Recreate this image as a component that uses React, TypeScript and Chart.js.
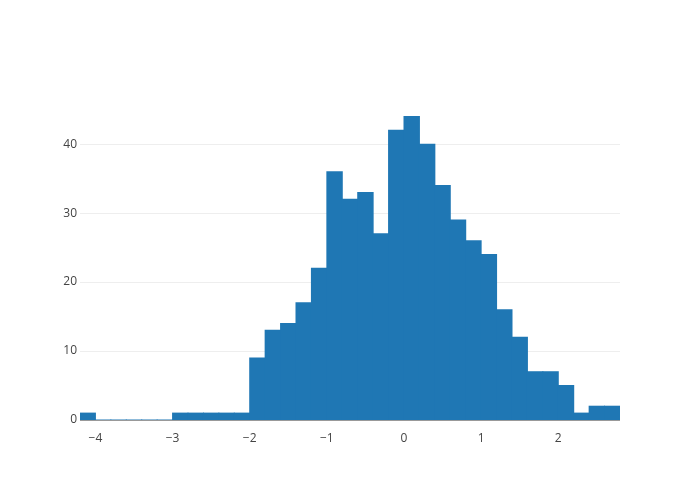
import React, { useEffect, useRef } from "react";
import { Chart, registerables } from "chart.js";

Chart.register(...registerables);

const binCenters = [
  -4.1, -3.9, -3.7, -3.5, -3.3, -3.1, -2.9, -2.7, -2.5, -2.3, -2.1,
  -1.9, -1.7, -1.5, -1.3, -1.1, -0.9, -0.7, -0.5, -0.3, -0.1,
  0.1, 0.3, 0.5, 0.7, 0.9, 1.1, 1.3, 1.5, 1.7, 1.9, 2.1, 2.3, 2.5, 2.7,
];
const counts = [
  1, 0, 0, 0, 0, 0, 1, 1, 1, 1, 1,
  9, 13, 14, 17, 22, 36, 32, 33, 27, 42,
  44, 40, 34, 29, 26, 24, 16, 12, 7, 7, 5, 1, 2, 2,
];
const xTicks = [-4, -3, -2, -1, 0, 1, 2];
const yTicks = [0, 10, 20, 30, 40];
const xRange = [-4.2, 2.8];
const yRange = [0, 46.4];

const fmt = (v: number) => (v < 0 ? "\u2212" + Math.abs(v) : String(v));

export default function App() {
  const ref = useRef<HTMLCanvasElement | null>(null);
  useEffect(() => {
    document.body.style.margin = "0";
    const ctx = ref.current!.getContext("2d")!;
    const chart = new Chart(ctx, {
      type: "bar",
      data: {
        datasets: [
          {
            data: binCenters.map((x, i) => ({ x, y: counts[i] })),
            backgroundColor: "#1f77b4",
            borderWidth: 0,
            inflateAmount: 0.5,
            barPercentage: 1,
            categoryPercentage: 1,
          } as any,
        ],
      },
      options: {
        animation: false,
        responsive: false,
        events: [],
        layout: { padding: { top: 100, right: 80, left: 0, bottom: 0 } },
        plugins: { legend: { display: false }, tooltip: { enabled: false } },
        scales: {
          x: {
            type: "linear",
            offset: false,
            min: xRange[0],
            max: xRange[1],
            grid: { display: false },
            border: { display: false },
            afterBuildTicks: (s: any) => {
              s.ticks = xTicks.map((value) => ({ value }));
            },
            ticks: {
              autoSkip: false,
              maxRotation: 0,
              padding: 3,
              color: "#444",
              font: { family: "Open Sans", size: 12 },
              callback: (v: any) => fmt(Number(v)),
            },
            afterFit: (s: any) => {
              s.height = 80;
            },
          },
          y: {
            min: yRange[0],
            max: yRange[1],
            grid: {
              drawTicks: false,
              color: (c: any) => (c.tick && c.tick.value === 0 ? "#999" : "#eee"),
              lineWidth: 1,
            },
            border: { display: false },
            afterBuildTicks: (s: any) => {
              s.ticks = yTicks.map((value) => ({ value }));
            },
            ticks: {
              padding: 3,
              color: "#444",
              font: { family: "Open Sans", size: 12 },
              callback: (v: any) => fmt(Number(v)),
            },
            afterFit: (s: any) => {
              s.width = 80;
            },
          },
        },
      },
    });
    return () => chart.destroy();
  }, []);
  return <canvas ref={ref} width={700} height={500} style={{ display: "block" }} />;
}
